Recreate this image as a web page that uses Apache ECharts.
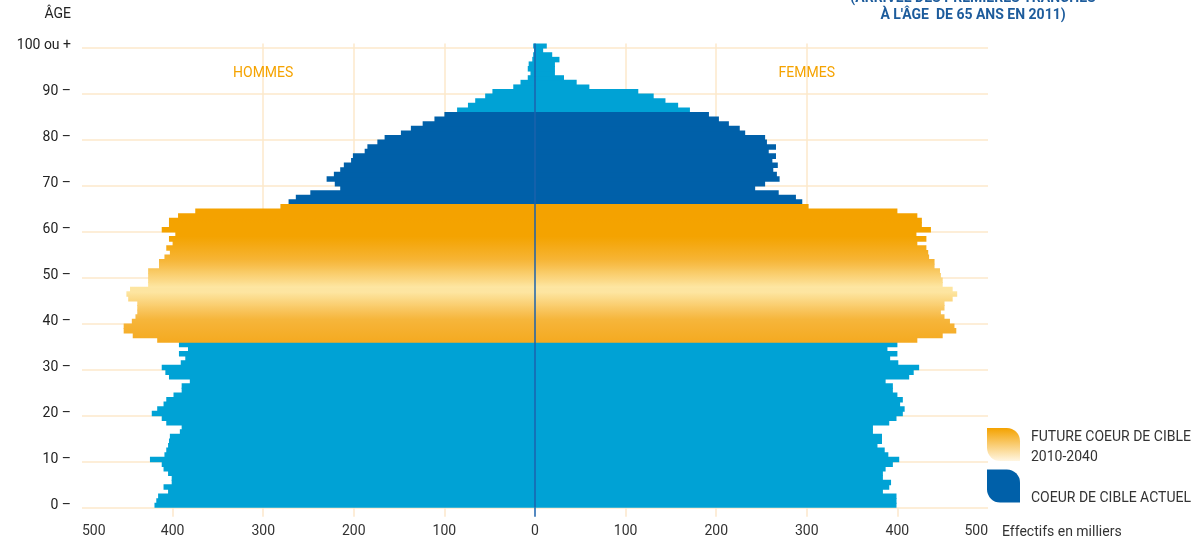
<!DOCTYPE html>
<html lang="fr">
<head>
<meta charset="utf-8">
<title>Pyramide des âges</title>
<script src="https://cdn.jsdelivr.net/npm/echarts@6/dist/echarts.min.js"></script>
<style>
  html, body { margin: 0; padding: 0; background: #ffffff; }
  #chart { width: 1194px; height: 538px; }
</style>
</head>
<body>
<div id="chart"></div>
<script>
// Âges 0 à 100 (la dernière tranche regroupe « 100 ou + »)
const ages = Array.from({ length: 101 }, (_, i) => String(i));

// Effectifs en milliers, par âge (0 → 100 ou +)
const hommes = [
  420, 418, 416, 405, 410, 401, 401, 405, 410, 412,
  425, 409, 407, 405, 404, 403, 392, 390, 407, 412,
  423, 417, 410, 407, 399, 390, 390, 381, 404, 408,
  412, 391, 386, 393, 383, 393, 417, 444, 454, 454,
  445, 441, 439, 439, 439, 449, 451, 447, 427, 427,
  427, 427, 415, 415, 409, 403, 407, 400, 404, 397,
  412, 404, 404, 394, 375, 281, 272, 264, 248, 215,
  221, 230, 222, 215, 211, 203, 201, 188, 185, 174,
  166, 148, 137, 124, 111, 100, 86, 74, 66, 55,
  47, 24, 16, 8, 5, 8, 7, 3, 2, 1,
  2
];
const femmes = [
  399, 399, 399, 384, 391, 393, 384, 384, 387, 395,
  402, 390, 386, 378, 383, 383, 373, 373, 391, 399,
  406, 408, 403, 406, 400, 395, 395, 387, 413, 418,
  424, 401, 392, 400, 389, 400, 422, 450, 465, 463,
  458, 452, 448, 452, 452, 461, 466, 461, 450, 450,
  448, 447, 441, 441, 435, 434, 432, 422, 432, 421,
  437, 427, 427, 422, 400, 302, 295, 288, 269, 243,
  254, 270, 267, 263, 268, 262, 266, 258, 266, 256,
  254, 232, 226, 214, 203, 192, 171, 158, 144, 131,
  114, 60, 46, 32, 22, 22, 22, 27, 19, 9,
  13
];

// Tranches d'âge mises en évidence
const coeurFutur = [36, 65];
const coeurActuel = [66, 85];

// Graduations
const xTicks = [-500, -400, -300, -200, -100, 0, 100, 200, 300, 400, 500];
const yTickLabels = ['0 –', '10 –', '20 –', '30 –', '40 –', '50 –', '60 –', '70 –', '80 –', '90 –', '100 ou +'];

const NOM_FUTUR = 'FUTURE COEUR DE CIBLE\n2010-2040';
const NOM_ACTUEL = 'COEUR DE CIBLE ACTUEL';
const NOM_AUTRES = 'Autres âges';

const BLEU_CLAIR = '#00a2d5';
const BLEU_FONCE = '#0060a9';
const BLEU_AXE = '#1b62ad';
const ORANGE = '#f5a300';
const GRILLE = '#fde8cb';
const POLICE = 'Roboto, "Liberation Sans", sans-serif';

// Dégradé orangé de la tranche future, défini selon l'âge
const stopsOrange = [
  [36, [245, 170, 32]],
  [41, [246, 181, 59]],
  [47.5, [254, 234, 171]],
  [54, [246, 180, 52]],
  [59, [244, 163, 0]],
  [66, [244, 162, 0]]
];
function orangeAt(age) {
  if (age <= stopsOrange[0][0]) return 'rgb(' + stopsOrange[0][1].join(',') + ')';
  for (let k = 1; k < stopsOrange.length; k++) {
    const [a1, c1] = stopsOrange[k];
    const [a0, c0] = stopsOrange[k - 1];
    if (age <= a1) {
      const t = (age - a0) / (a1 - a0);
      const c = c0.map((v, j) => Math.round(v + (c1[j] - v) * t));
      return 'rgb(' + c.join(',') + ')';
    }
  }
  return 'rgb(' + stopsOrange[stopsOrange.length - 1][1].join(',') + ')';
}
function degradeBarre(age) {
  return new echarts.graphic.LinearGradient(0, 0, 0, 1, [
    { offset: 0, color: orangeAt(age + 1.1) },
    { offset: 1, color: orangeAt(age - 0.1) }
  ]);
}

const dansTranche = (i, t) => i >= t[0] && i <= t[1];

function serieAutres(valeurs, signe) {
  return valeurs.map((v, i) => (dansTranche(i, coeurFutur) || dansTranche(i, coeurActuel)) ? '-' : signe * v);
}
function serieActuel(valeurs, signe) {
  return valeurs.map((v, i) => dansTranche(i, coeurActuel) ? signe * v : '-');
}
function serieFutur(valeurs, signe) {
  return valeurs.map((v, i) => dansTranche(i, coeurFutur)
    ? { value: signe * v, itemStyle: { color: degradeBarre(i) } }
    : '-');
}

// Libellés de légende : une courte ligne vide en tête décale le texte sous le centre du pictogramme
function libelleLegende(nom) {
  const lignes = nom === NOM_ACTUEL ? ['', nom] : nom.split('\n');
  return '{e|}\n' + lignes.map(l => '{t|' + l + '}').join('\n');
}

// Barres jointives : légère superposition pour éviter les liserés blancs
const barreCommune = {
  type: 'bar',
  barGap: '-100%',
  barWidth: '120%',
  silent: true,
  animation: false
};

const chart = echarts.init(document.getElementById('chart'), null, { renderer: 'canvas' });

chart.setOption({
  animation: false,
  textStyle: { fontFamily: POLICE },
  title: [
    {
      text: "(ARRIVÉE DES PREMIÈRES TRANCHES\nÀ L'ÂGE  DE 65 ANS EN 2011)",
      left: 973,
      top: -10,
      padding: 0,
      textAlign: 'center',
      textStyle: { fontFamily: POLICE, fontWeight: 'bold', fontSize: 14, lineHeight: 17, color: '#1d5c9c' }
    },
    {
      text: 'Effectifs en milliers',
      left: 1002,
      top: 524,
      padding: 0,
      textStyle: { fontFamily: POLICE, fontWeight: 'normal', fontSize: 14, lineHeight: 17, color: '#333333' }
    }
  ],
  legend: {
    orient: 'vertical',
    left: 987,
    top: 422,
    padding: 0,
    itemWidth: 33,
    itemHeight: 33,
    itemGap: -0.5,
    selectedMode: false,
    icon: 'path://M0,0H60A40,40,0,0,1,100,40V100H40A40,40,0,0,1,0,60Z',
    formatter: libelleLegende,
    textStyle: {
      fontFamily: POLICE,
      fontSize: 14,
      color: '#333333',
      padding: [0, 0, 0, 6],
      rich: {
        e: { lineHeight: 5, height: 5, fontSize: 5 },
        t: { lineHeight: 20, fontSize: 14, fontFamily: POLICE, color: '#333333' }
      }
    },
    data: [
      {
        name: NOM_FUTUR,
        itemStyle: {
          color: new echarts.graphic.LinearGradient(0, 0, 0, 1, [
            { offset: 0, color: '#f4a200' },
            { offset: 1, color: '#fff6e2' }
          ])
        }
      },
      { name: NOM_ACTUEL, itemStyle: { color: BLEU_FONCE } }
    ]
  },
  grid: { left: 82, right: 206, top: 43.5, bottom: 30.2, containLabel: false, outerBoundsMode: 'none' },
  xAxis: [
    {
      type: 'value',
      min: xTicks[0],
      max: xTicks[xTicks.length - 1],
      interval: 100,
      axisLine: { show: false },
      axisTick: {
        show: true,
        length: 9,
        customValues: xTicks.filter(v => v !== 0 && Math.abs(v) < 500),
        lineStyle: { color: GRILLE, width: 1.5 }
      },
      axisLabel: {
        formatter: v => String(Math.abs(v)),
        margin: 17,
        fontSize: 14,
        color: '#333333',
        fontFamily: POLICE,
        alignMinLabel: 'left',
        alignMaxLabel: 'right'
      },
      splitLine: {
        show: true,
        showMinLine: false,
        showMaxLine: false,
        lineStyle: { color: GRILLE, width: 1.5 }
      }
    },
    {
      type: 'value',
      min: xTicks[0],
      max: xTicks[xTicks.length - 1],
      interval: 100,
      position: 'bottom',
      axisLine: { show: false },
      axisLabel: { show: false },
      splitLine: { show: false },
      axisTick: { show: true, length: 9, customValues: [0], lineStyle: { color: BLEU_AXE, width: 1.5 } }
    }
  ],
  yAxis: {
    type: 'category',
    data: ages,
    boundaryGap: true,
    axisLine: { show: false, onZero: false },
    axisTick: { show: false },
    axisLabel: {
      interval: 9,
      formatter: (v, i) => yTickLabels[Math.round(i / 10)],
      margin: 11,
      fontSize: 14,
      color: '#222222',
      fontFamily: POLICE
    },
    splitLine: {
      show: true,
      interval: 9,
      showMaxLine: false,
      lineStyle: { color: GRILLE, width: 1.5 }
    },
    name: 'ÂGE',
    nameLocation: 'end',
    nameGap: 22,
    nameTextStyle: { fontFamily: POLICE, fontSize: 14, color: '#222222', align: 'right', padding: [0, 11, 0, 0] }
  },
  series: [
    Object.assign({}, barreCommune, {
      name: NOM_AUTRES,
      itemStyle: { color: BLEU_CLAIR },
      data: serieAutres(hommes, -1),
      markPoint: {
        symbol: 'rect',
        symbolSize: 0,
        silent: true,
        label: { show: true, formatter: p => p.name, color: ORANGE, fontSize: 14, fontFamily: POLICE },
        data: [{ name: 'HOMMES', coord: [-300, 94] }]
      }
    }),
    Object.assign({}, barreCommune, {
      name: NOM_AUTRES,
      itemStyle: { color: BLEU_CLAIR },
      data: serieAutres(femmes, 1),
      markPoint: {
        symbol: 'rect',
        symbolSize: 0,
        silent: true,
        label: { show: true, formatter: p => p.name, color: ORANGE, fontSize: 14, fontFamily: POLICE },
        data: [{ name: 'FEMMES', coord: [300, 94] }]
      }
    }),
    Object.assign({}, barreCommune, {
      name: NOM_ACTUEL,
      itemStyle: { color: BLEU_FONCE },
      data: serieActuel(hommes, -1)
    }),
    Object.assign({}, barreCommune, {
      name: NOM_ACTUEL,
      itemStyle: { color: BLEU_FONCE },
      data: serieActuel(femmes, 1)
    }),
    Object.assign({}, barreCommune, {
      name: NOM_FUTUR,
      itemStyle: { color: ORANGE },
      data: serieFutur(hommes, -1)
    }),
    Object.assign({}, barreCommune, {
      name: NOM_FUTUR,
      itemStyle: { color: ORANGE },
      data: serieFutur(femmes, 1),
      markLine: {
        silent: true,
        symbol: 'none',
        z: 10,
        label: { show: false },
        lineStyle: { color: BLEU_AXE, width: 1.5, type: 'solid' },
        data: [{ xAxis: 0 }]
      }
    })
  ]
});
</script>
</body>
</html>
